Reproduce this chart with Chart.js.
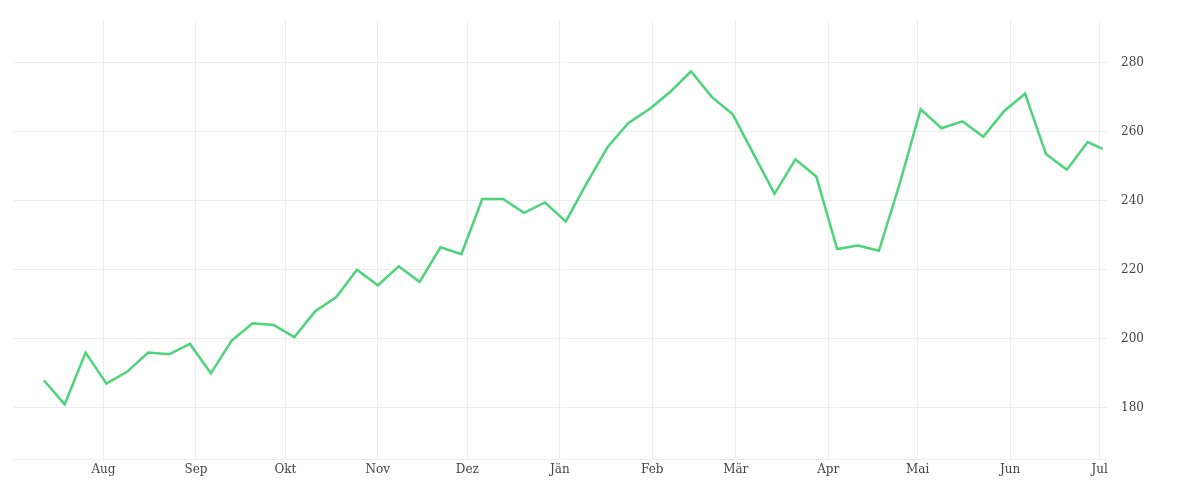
<!DOCTYPE html>
<html>
<head>
<meta charset="utf-8">
<script src="https://cdn.jsdelivr.net/npm/chart.js@4"></script>
<style>
  body { margin: 0; background: #fff; }
  #wrap { width: 1200px; height: 500px; }
</style>
</head>
<body>
<div id="wrap"><canvas id="lineChart"></canvas></div>
<script>
const dates = [
  '2022-07-12', '2022-07-19', '2022-07-26', '2022-08-02', '2022-08-09', '2022-08-16', '2022-08-23', '2022-08-30',
  '2022-09-06', '2022-09-13', '2022-09-20', '2022-09-27', '2022-10-04', '2022-10-11', '2022-10-18', '2022-10-25',
  '2022-11-01', '2022-11-08', '2022-11-15', '2022-11-22', '2022-11-29', '2022-12-06', '2022-12-13', '2022-12-20',
  '2022-12-27', '2023-01-03', '2023-01-10', '2023-01-17', '2023-01-24', '2023-01-31', '2023-02-07', '2023-02-14',
  '2023-02-21', '2023-02-28', '2023-03-07', '2023-03-14', '2023-03-21', '2023-03-28', '2023-04-04', '2023-04-11',
  '2023-04-18', '2023-04-25', '2023-05-02', '2023-05-09', '2023-05-16', '2023-05-23', '2023-05-30', '2023-06-06',
  '2023-06-13', '2023-06-20', '2023-06-27', '2023-07-02'
];
const values = [
  188, 181, 196, 187, 190.5, 196, 195.5, 198.5, 190, 199.5, 204.5, 204, 200.5, 208, 212, 220,
  215.5, 221, 216.5, 226.5, 224.5, 240.5, 240.5, 236.5, 239.5, 234, 245, 255.5, 262.5, 266.5, 271.5, 277.5,
  270, 265, 253.5, 242, 252, 247, 226, 227, 225.5, 245, 266.5, 261, 263, 258.5, 266, 271,
  253.5, 249, 257, 255
];
const monthStarts = ['2022-08-01', '2022-09-01', '2022-10-01', '2022-11-01', '2022-12-01', '2023-01-01',
  '2023-02-01', '2023-03-01', '2023-04-01', '2023-05-01', '2023-06-01', '2023-07-01'];
const monthLabels = ['Aug', 'Sep', 'Okt', 'Nov', 'Dez', 'Jän', 'Feb', 'Mär', 'Apr', 'Mai', 'Jun', 'Jul'];
const yTicks = [180, 200, 220, 240, 260, 280];

const DAY = 86400000;
const origin = Date.UTC(2022, 7, 1);
const toDay = s => (Date.parse(s + 'T00:00:00Z') - origin) / DAY;
const monthDays = monthStarts.map(toDay);

new Chart(document.getElementById('lineChart').getContext('2d'), {
    type: 'line',
    data: {
        datasets: [{
            data: dates.map((d, i) => ({ x: toDay(d), y: values[i] })),
            borderColor: '#4cd47a',
            borderWidth: 2.5,
            pointRadius: 0,
            tension: 0
        }]
    },
    options: {
        responsive: true,
        maintainAspectRatio: false,
        animation: false,
        layout: { padding: { left: 14, right: 42, top: 6, bottom: 20 } },
        plugins: { legend: { display: false }, tooltip: { enabled: false } },
        scales: {
            x: {
                type: 'linear',
                min: -30,
                max: 336.5,
                afterBuildTicks: axis => { axis.ticks = monthDays.map(v => ({ value: v })); },
                ticks: {
                    autoSkip: false,
                    maxRotation: 0,
                    color: '#444',
                    font: { family: 'DejaVu Serif', size: 12 },
                    callback: (v, i) => monthLabels[i]
                },
                grid: { color: '#ececec', drawTicks: false },
                border: { display: false }
            },
            y: {
                position: 'right',
                min: 165,
                max: 292,
                afterBuildTicks: axis => { axis.ticks = [165].concat(yTicks).map(v => ({ value: v })); },
                ticks: {
                    color: '#444',
                    padding: 14,
                    font: { family: 'DejaVu Serif', size: 12 },
                    callback: v => yTicks.includes(v) ? v : ''
                },
                grid: { color: '#ececec', drawTicks: false },
                border: { display: false }
            }
        }
    }
});
</script>
</body>
</html>
